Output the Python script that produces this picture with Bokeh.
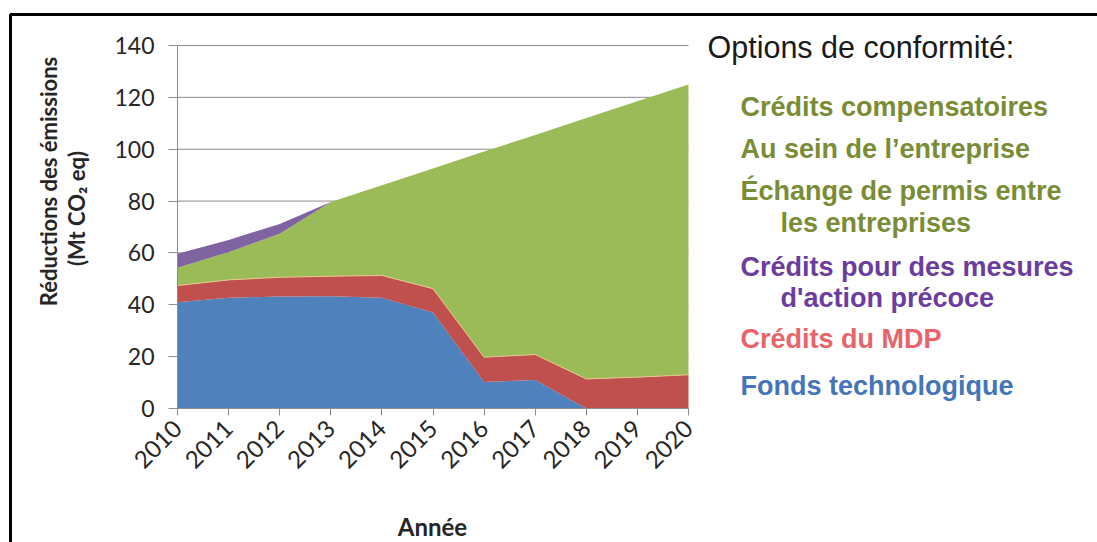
import math
from bokeh.plotting import figure
from bokeh.models import ColumnDataSource, Range1d, Label, BoxAnnotation, FixedTicker
from bokeh.embed import file_html
from bokeh.resources import INLINE

# ---- data ----
years = [2010, 2011, 2012, 2013, 2014, 2015, 2016, 2017, 2018, 2019, 2020]
fonds_technologique = [41.0, 42.7, 43.2, 43.3, 42.7, 37.0, 10.2, 11.0, 0.0, 0.0, 0.0]
credits_mdp = [6.4, 6.9, 7.4, 7.7, 8.6, 9.2, 9.6, 9.8, 11.4, 12.1, 13.0]
compensatoires_entreprise_echange = [6.9, 10.7, 16.8, 28.6, 34.8, 46.4, 79.3, 84.7, 100.6, 106.4, 112.0]
action_precoce = [5.4, 4.7, 3.8, 0.0, 0.0, 0.0, 0.0, 0.0, 0.0, 0.0, 0.0]

y_ticks = [0, 20, 40, 60, 80, 100, 120, 140]
y_label_1 = "Réductions des émissions"
y_label_2 = "(Mt CO\u2082 eq)"
x_label = "Année"
legend_title = "Options de conformité:"
legend_lines = [
    ("Crédits compensatoires", "#7A8C35", False),
    ("Au sein de l\u2019entreprise", "#7A8C35", False),
    ("Échange de permis entre", "#7A8C35", False),
    ("les entreprises", "#7A8C35", True),
    ("Crédits pour des mesures", "#6A3D9E", False),
    ("d'action précoce", "#6A3D9E", True),
    ("Crédits du MDP", "#E8646A", False),
    ("Fonds technologique", "#4575B8", False),
]
legend_y_px = [106, 148, 190, 222, 266, 297, 338, 385]

series_names = ["fonds", "mdp", "vert", "precoce"]
series_colors = ["#4F81BD", "#C0504D", "#9BBB59", "#8064A2"]

# ---- layout (pixels) ----
W, H = 1097, 542
FL, FR, FT, FB = 177, 688, 45, 408   # data area in canvas pixels
X0, X1 = 2010, 2020
Y0, Y1 = 0, 140

def px_x(px):
    return X0 + (px - FL) * (X1 - X0) / (FR - FL)

def px_y(py):
    return Y0 + (FB - py) * (Y1 - Y0) / (FB - FT)

source = ColumnDataSource(dict(
    year=years,
    fonds=fonds_technologique,
    mdp=credits_mdp,
    vert=compensatoires_entreprise_echange,
    precoce=action_precoce,
))

p = figure(width=W, height=H, output_backend="svg", toolbar_location=None,
           x_range=Range1d(px_x(0), px_x(W)), y_range=Range1d(px_y(H), px_y(0)),
           min_border_left=0, min_border_right=0, min_border_top=0, min_border_bottom=0)
p.outline_line_color = None
p.background_fill_color = "white"
p.border_fill_color = "white"
p.xgrid.visible = False
p.ygrid.visible = False

# horizontal grid lines over the data area
p.segment(x0=[X0] * len(y_ticks), x1=[X1] * len(y_ticks), y0=y_ticks, y1=y_ticks,
          line_color="#8C8C8C", line_width=1)

p.varea_stack(stackers=series_names, x="year", color=series_colors, source=source)

# thin pale boundary on top of the MDP layer
mdp_top = [a + b for a, b in zip(fonds_technologique, credits_mdp)]
p.line(years, mdp_top, line_color="#EBC58E", line_width=1)

# axes pinned to the data area
p.xaxis.fixed_location = Y0
p.yaxis.fixed_location = X0
p.xaxis.bounds = (X0, X1)
p.yaxis.bounds = (Y0, Y1)
p.xaxis.ticker = FixedTicker(ticks=years)
p.yaxis.ticker = FixedTicker(ticks=y_ticks)
p.xaxis.minor_tick_line_color = None
p.yaxis.minor_tick_line_color = None
for ax in (p.xaxis, p.yaxis):
    ax.axis_line_color = "#8C8C8C"
    ax.major_tick_line_color = "#8C8C8C"
    ax.major_tick_in = 0
    ax.major_label_text_font = "Lato"
    ax.major_label_text_color = "#262626"
p.yaxis.major_label_text_font_size = "23px"
p.xaxis.major_label_text_font_size = "24px"
p.yaxis.major_tick_out = 9
p.yaxis.major_label_standoff = 14
p.xaxis.major_tick_out = 7
p.xaxis.major_label_standoff = 9
p.xaxis.major_label_orientation = math.pi / 4

# axis titles
p.add_layout(Label(x=px_x(48), y=px_y(181), text=y_label_1, angle=math.pi / 2,
                   text_align="center", text_baseline="middle",
                   text_font="Lato", text_font_style="bold", text_font_size="22px",
                   text_color="#262626"))
p.add_layout(Label(x=px_x(76), y=px_y(208), text=y_label_2, angle=math.pi / 2,
                   text_align="center", text_baseline="middle",
                   text_font="Lato", text_font_style="bold", text_font_size="22px",
                   text_color="#262626"))
p.add_layout(Label(x=px_x(432), y=px_y(526), text=x_label,
                   text_align="center", text_baseline="middle",
                   text_font="Lato", text_font_style="bold", text_font_size="24px",
                   text_color="#262626"))

# legend texts
p.add_layout(Label(x=px_x(707), y=px_y(46), text=legend_title,
                   text_align="left", text_baseline="middle",
                   text_font="Liberation Sans", text_font_size="30.5px",
                   text_color="#1A1A1A"))
for (txt, col, indent), ypx in zip(legend_lines, legend_y_px):
    p.add_layout(Label(x=px_x(780 if indent else 740), y=px_y(ypx), text=txt,
                       text_align="left", text_baseline="middle",
                       text_font="Liberation Sans", text_font_style="bold",
                       text_font_size="27px", text_color=col))

# outer frame (black border)
p.add_layout(BoxAnnotation(left=px_x(10), right=px_x(1300), top=px_y(14), bottom=px_y(800),
                           fill_alpha=0, line_color="black", line_alpha=1.0, line_width=3))

open("out.html", "w").write(file_html(p, INLINE))
